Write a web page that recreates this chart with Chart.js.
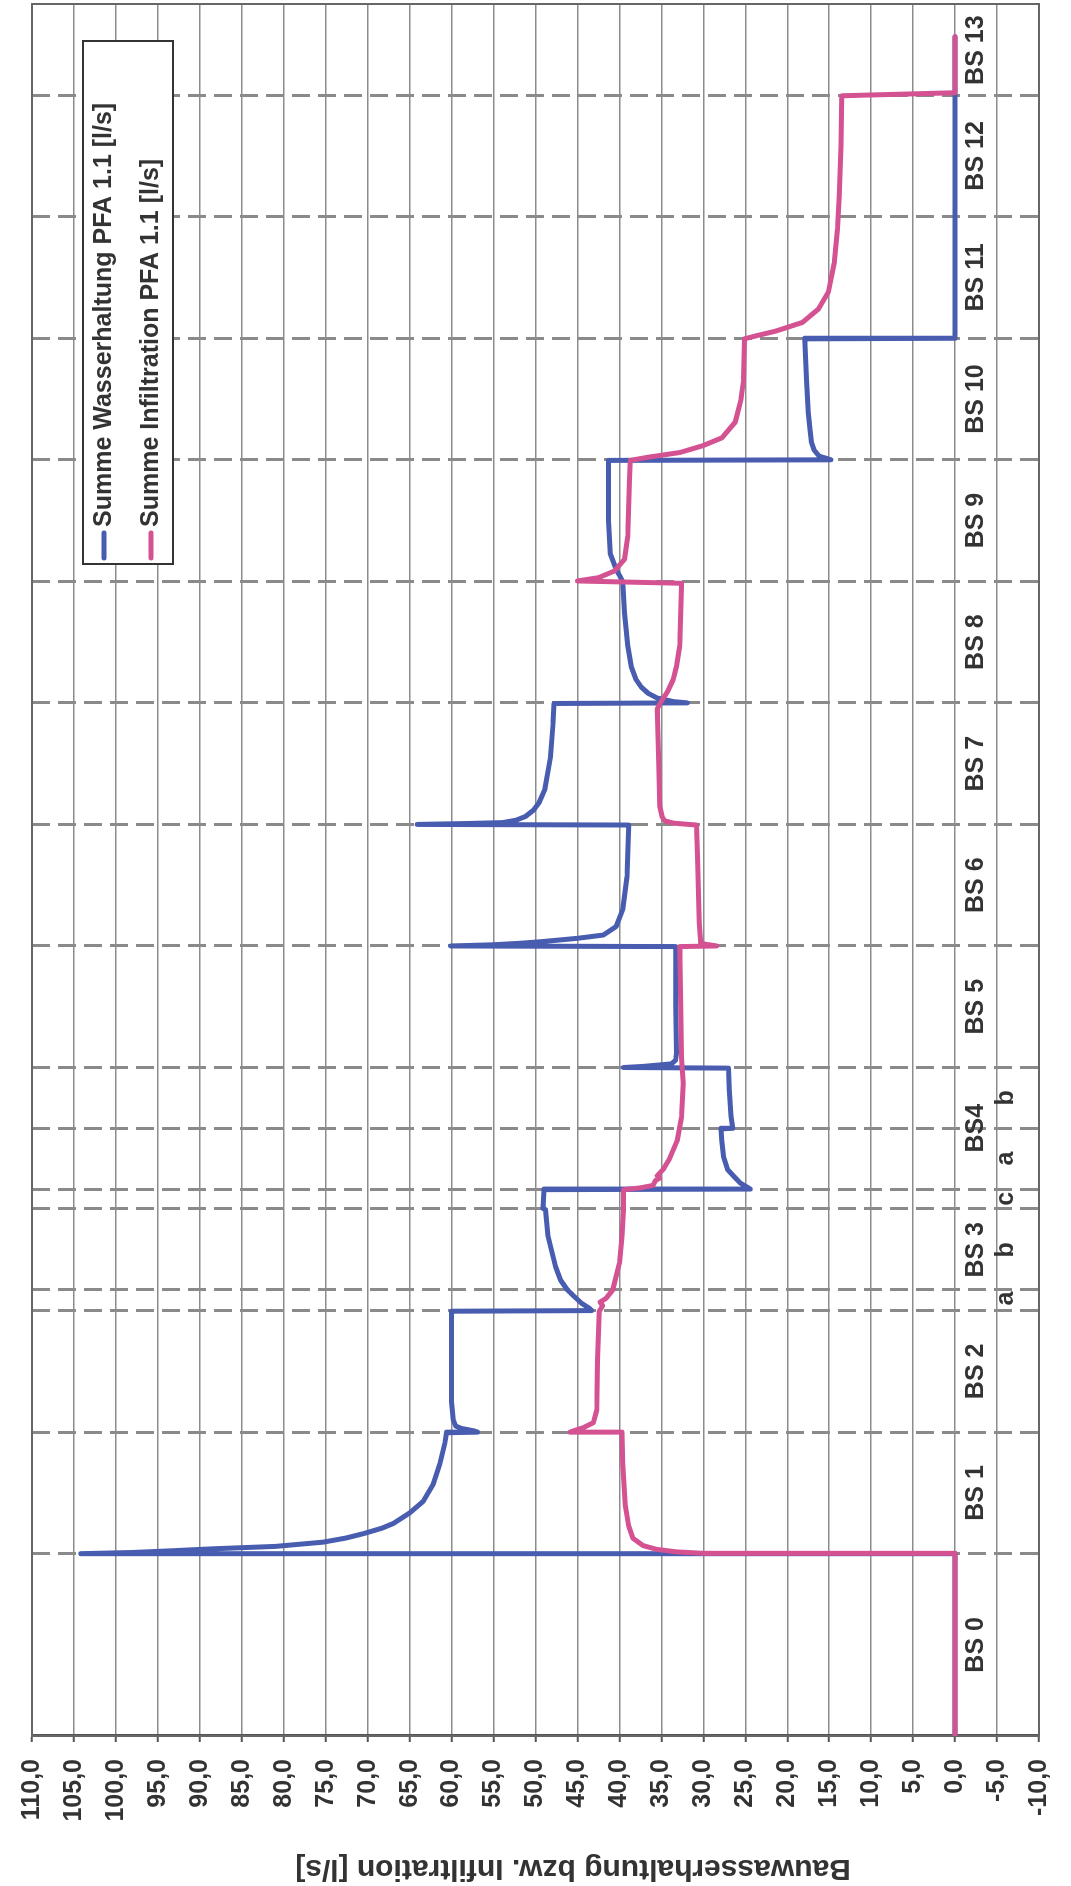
<!DOCTYPE html>
<html>
<head>
<meta charset="utf-8">
<script src="https://cdn.jsdelivr.net/npm/chart.js@4.4.1/dist/chart.umd.min.js"></script>
<style>
  html, body { margin: 0; padding: 0; background: #fff; overflow: hidden; }
  /* Diagramm liegt quer auf der Seite */
  #wrap { position: absolute; left: 0; top: 0; width: 1886px; height: 1071px;
          transform-origin: 0 0; transform: translate(0, 1886px) rotate(-90deg); }
</style>
</head>
<body>
<div id="wrap"><canvas id="chart" width="1886" height="1071"></canvas></div>
<script>
// Zeitachse in Tagen, Grenzen der Bauschritte (gestrichelte Linien)
const grenzen = [150, 250, 350, 367, 434, 450, 500, 550, 650, 750, 850, 950, 1050, 1150, 1250, 1350];
const bsPos = [75, 200, 300, 400, 500, 600, 700, 800, 900, 1000, 1100, 1200, 1300, 1387];
const bsLabels = ['BS 0', 'BS 1', 'BS 2', 'BS 3', 'BS4', 'BS 5', 'BS 6', 'BS 7', 'BS 8', 'BS 9', 'BS 10', 'BS 11', 'BS 12', 'BS 13'];
const subPos = [360, 400, 442, 475, 525];
const subLabels = ['a', 'b', 'c', 'a', 'b'];

// Summe Wasserhaltung PFA 1.1 [l/s]
const tWasser = [0, 150,
  150, 151, 152.5, 154, 156, 159.5, 163, 166.5, 171, 175, 183.5, 193, 207, 224, 241, 249.5,
  250, 251, 253, 255, 260, 275, 349.5,
  350, 352, 356, 363, 367, 375, 386, 400, 411, 433, 434, 449.5,
  450, 452, 455, 460, 466, 477, 490, 499.5, 500, 510, 532, 549.5,
  550, 551, 553, 556, 562, 600, 649.5,
  650, 651, 652.2, 653.6, 656.3, 659, 666, 680, 707, 749.5,
  750, 750.7, 751.5, 753.5, 756.5, 762, 767.6, 778.6, 806, 833.5, 849.5,
  850, 851, 854, 858, 863, 869, 880, 897, 924, 949.5, 955, 960, 973, 1000, 1049.5,
  1050, 1053, 1058, 1064, 1075, 1089, 1116, 1149.5,
  1150, 1398];
const qWasser = [0, 0,
  104.2, 98, 93, 88.5, 81, 75.3, 72.5, 70.5, 68.3, 66.9, 65.0, 63.4, 62.2, 61.4, 60.8, 60.6,
  56.9, 57.3, 58.8, 59.5, 59.8, 60.0, 60.0,
  43.3, 43.6, 44.5, 45.6, 46.2, 47.0, 47.6, 48.1, 48.5, 48.8, 49.1, 49.0,
  24.4, 24.9, 25.6, 26.3, 27.1, 27.6, 27.8, 27.9, 26.5, 26.7, 26.9, 27.0,
  39.5, 37.0, 33.8, 33.3, 33.2, 33.3, 33.3,
  60.1, 55.0, 51.9, 49.2, 45.0, 41.9, 40.4, 39.6, 39.1, 38.9,
  64.1, 58.5, 53.9, 52.3, 51.2, 50.2, 49.6, 48.9, 48.2, 47.9, 47.8,
  31.9, 33.5, 35.5, 36.6, 37.4, 38.0, 38.6, 39.0, 39.4, 39.6, 40.0, 40.4, 41.1, 41.3, 41.3,
  14.8, 16.2, 16.8, 17.1, 17.3, 17.5, 17.7, 17.9,
  0, 0];

// Summe Infiltration PFA 1.1 [l/s]
const tInfil = [0, 150,
  150.3, 151.5, 153.6, 156.7, 162.8, 173, 190, 224, 249.5,
  250, 253.7, 257.8, 268, 309, 349.5,
  354, 357, 360, 367, 389, 411, 433, 449.5,
  451, 453, 457, 459, 461, 466, 474, 490, 509, 537, 558, 600, 649.5,
  650, 652, 669, 724, 749.5,
  751, 753, 756, 765, 800, 845,
  851.4, 860, 869, 880, 897, 946, 948.4,
  950.3, 953, 958.5, 968, 987, 1034, 1049.5,
  1052, 1056, 1061.5, 1068, 1081, 1100, 1116, 1149.5,
  1152, 1156, 1163, 1174, 1188, 1212, 1240, 1267, 1308, 1349.5,
  1352, 1398];
const qInfil = [0, 0,
  30.0, 33.2, 35.6, 37.2, 38.4, 38.9, 39.3, 39.6, 39.7,
  45.9, 44.3, 43.1, 42.7, 42.6, 42.4,
  42.0, 42.3, 41.6, 40.8, 40.0, 39.7, 39.5, 39.5,
  37.5, 36.0, 35.7, 35.2, 35.5, 34.8, 34.1, 33.1, 32.6, 32.4, 32.6, 32.7, 32.8,
  28.4, 30.3, 30.5, 30.7, 30.8,
  33.5, 34.6, 34.9, 35.2, 35.3, 35.5,
  35.0, 34.2, 33.6, 33.2, 32.8, 32.6, 32.6,
  45.0, 42.5, 40.6, 39.4, 39.0, 38.8, 38.7,
  36.7, 32.8, 30.1, 27.8, 26.2, 25.5, 25.2, 25.1,
  23.7, 21.3, 18.2, 16.3, 15.1, 14.4, 14.0, 13.8, 13.6, 13.5,
  0, 0];

const toPoints = (ts, qs) => ts.map((t, i) => ({ x: t, y: qs[i] }));
const komma = v => v.toFixed(1).replace('.', ',');

Chart.defaults.font.family = '"Liberation Sans", Arial, sans-serif';
Chart.defaults.color = '#333';

// Rahmen um die Zeichenfläche
const rahmen = {
  id: 'rahmen',
  beforeDatasetsDraw(chart) {
    const { ctx, chartArea: a } = chart;
    ctx.save();
    ctx.strokeStyle = '#666';
    ctx.lineWidth = 2;
    ctx.strokeRect(a.left, a.top, a.right - a.left, a.bottom - a.top);
    ctx.restore();
  }
};

// Legende wie im Original (Kasten oben rechts)
const legendeKasten = {
  id: 'legendeKasten',
  afterDraw(chart) {
    const { ctx, chartArea: a } = chart;
    const w = 523, h = 90;
    const x = a.right - 37 - w, y = a.top + 51;
    ctx.save();
    ctx.fillStyle = '#fff';
    ctx.fillRect(x, y, w, h);
    ctx.strokeStyle = '#333';
    ctx.lineWidth = 2;
    ctx.strokeRect(x, y, w, h);
    ctx.font = 'bold 25px "Liberation Sans", Arial, sans-serif';
    ctx.textBaseline = 'middle';
    chart.data.datasets.forEach((ds, i) => {
      const ly = y + 21 + i * 47;
      ctx.strokeStyle = ds.borderColor;
      ctx.lineWidth = 5;
      ctx.lineCap = 'round';
      ctx.beginPath();
      ctx.moveTo(x + 6, ly);
      ctx.lineTo(x + 31, ly);
      ctx.stroke();
      ctx.fillStyle = '#333';
      ctx.fillText(ds.label, x + 37, ly);
    });
    ctx.restore();
  }
};

const labelAchse = (pos, labels, pad) => ({
  type: 'linear', axis: 'x', min: 0, max: 1425,
  position: { y: 0 },
  afterBuildTicks: s => { s.ticks = pos.map(v => ({ value: v })); },
  ticks: {
    autoSkip: false, maxRotation: 0, minRotation: 0, padding: pad,
    color: '#333', font: { size: 25, weight: 'bold' },
    callback: (v, i) => labels[i]
  },
  grid: { display: false, drawTicks: false },
  border: { display: false }
});

new Chart(document.getElementById('chart'), {
  type: 'scatter',
  data: {
    datasets: [
      {
        label: 'Summe Wasserhaltung PFA 1.1 [l/s]',
        data: toPoints(tWasser, qWasser),
        borderColor: '#485cb0',
        order: 1
      },
      {
        label: 'Summe Infiltration PFA 1.1 [l/s]',
        data: toPoints(tInfil, qInfil),
        borderColor: '#d45292',
        order: 0
      }
    ]
  },
  options: {
    responsive: false,
    animation: false,
    showLine: true,
    elements: {
      point: { radius: 0 },
      line: { borderWidth: 5, tension: 0, borderJoinStyle: 'round', borderCapStyle: 'round' }
    },
    layout: { padding: { top: 26, right: 4, bottom: 11, left: 0 } },
    plugins: { legend: { display: false }, tooltip: { enabled: false } },
    scales: {
      x: {
        type: 'linear', min: 0, max: 1425,
        position: { y: 0 },
        afterBuildTicks: s => { s.ticks = grenzen.map(v => ({ value: v })); },
        ticks: { display: false },
        grid: { color: '#8a8a8a', lineWidth: 3, drawTicks: false },
        border: { display: false, dash: [18, 8] }
      },
      bs: labelAchse(bsPos, bsLabels, 6),
      sub: labelAchse(subPos, subLabels, 36),
      y: {
        type: 'linear', min: -10, max: 110,
        afterFit: s => { s.width = 150; },
        ticks: {
          stepSize: 5, padding: 17, color: '#333',
          font: { size: 25, weight: 'bold' },
          callback: v => komma(v)
        },
        grid: { color: '#8c8c8c', lineWidth: 1.5, tickLength: 6, tickColor: '#555', tickWidth: 2 },
        border: { color: '#555', width: 3 },
        title: {
          display: true,
          // nachgestellte Leerzeichen schieben den Titel wie im Original etwas nach unten
          text: 'Bauwasserhaltung bzw. Infiltration [l/s]' + ' '.repeat(9),
          color: '#333', font: { size: 30, weight: 'bold' }, padding: 0
        }
      }
    }
  },
  plugins: [rahmen, legendeKasten]
});
</script>
</body>
</html>
